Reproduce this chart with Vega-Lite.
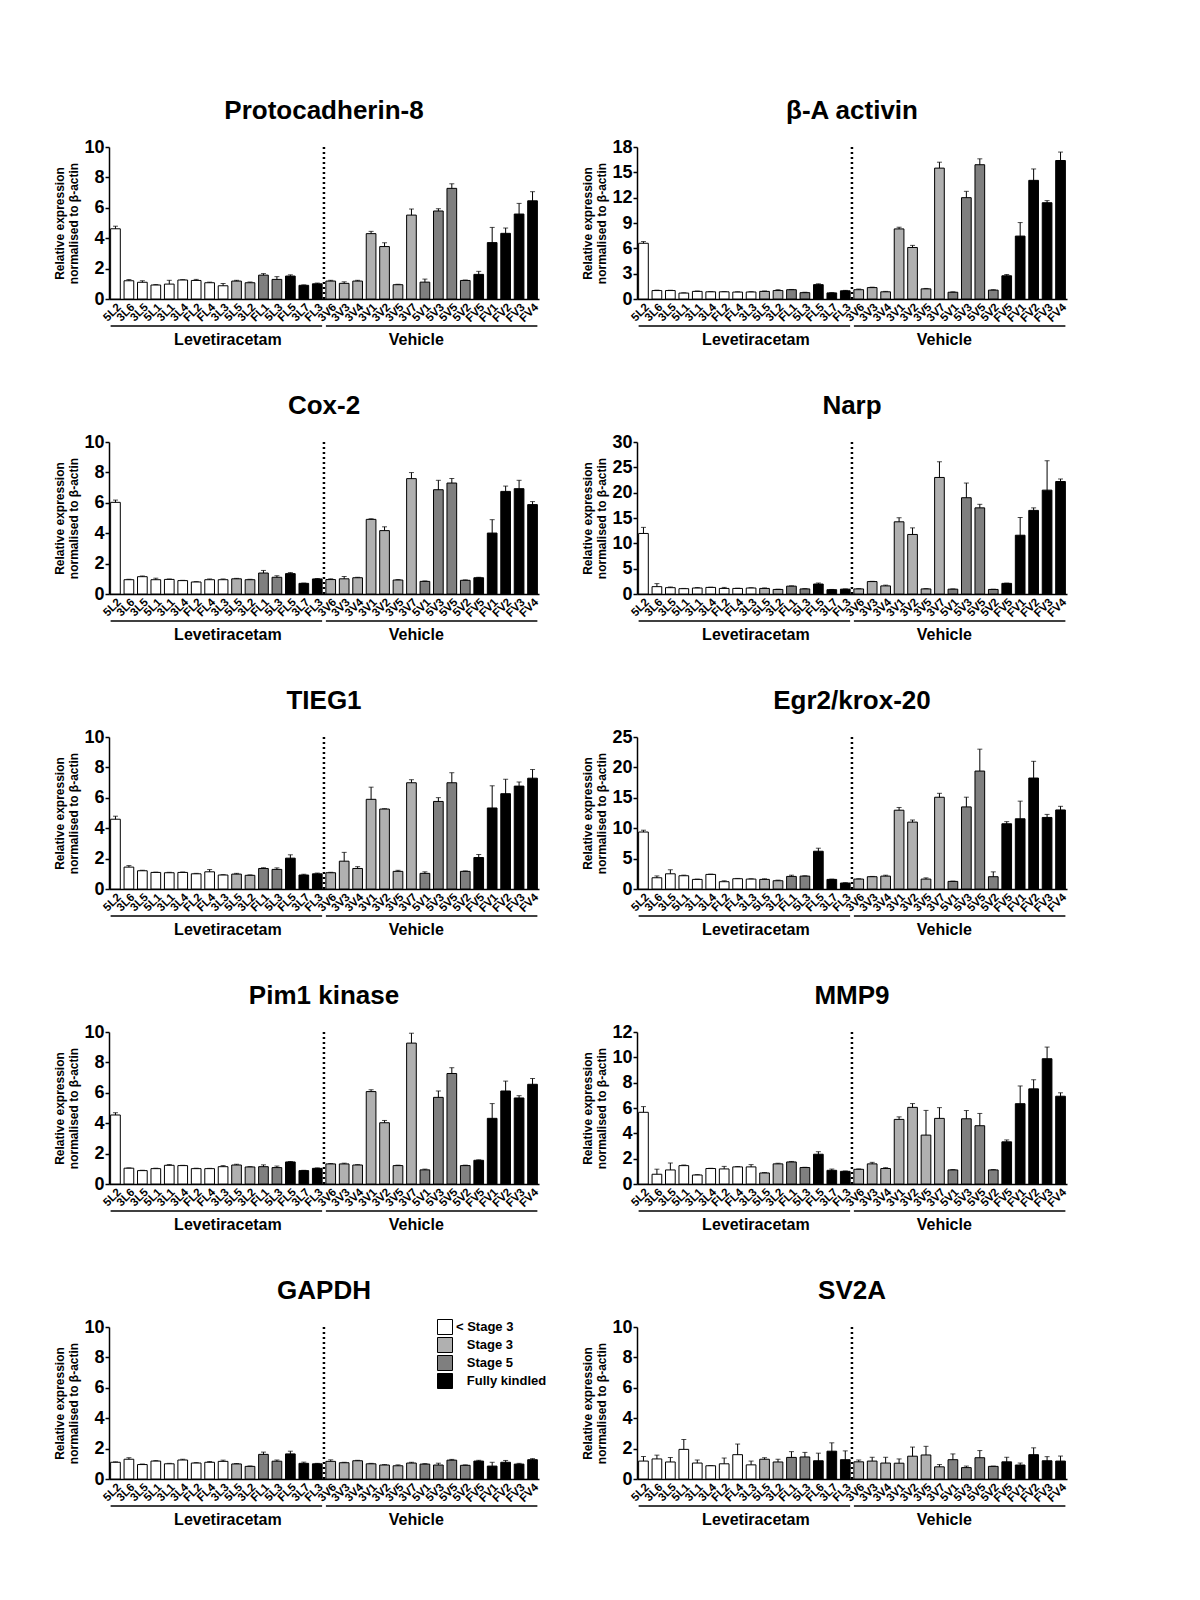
{
"$schema": "https://vega.github.io/schema/vega-lite/v6.json",
"padding": {"left": 53, "top": 98, "right": 0, "bottom": 0},
"datasets": {
"samples": [
{"s":"5L2","k":"< Stage 3"},{"s":"3L6","k":"< Stage 3"},{"s":"3L5","k":"< Stage 3"},{"s":"5L1","k":"< Stage 3"},{"s":"3L1","k":"< Stage 3"},{"s":"3L4","k":"< Stage 3"},{"s":"FL2","k":"< Stage 3"},{"s":"FL4","k":"< Stage 3"},{"s":"3L3","k":"< Stage 3"},
{"s":"5L5","k":"Stage 3"},{"s":"3L2","k":"Stage 3"},{"s":"3V6","k":"Stage 3"},{"s":"3V3","k":"Stage 3"},{"s":"3V4","k":"Stage 3"},{"s":"3V1","k":"Stage 3"},{"s":"3V2","k":"Stage 3"},{"s":"3V5","k":"Stage 3"},{"s":"3V7","k":"Stage 3"},
{"s":"FL1","k":"Stage 5"},{"s":"5L3","k":"Stage 5"},{"s":"5V1","k":"Stage 5"},{"s":"5V3","k":"Stage 5"},{"s":"5V5","k":"Stage 5"},{"s":"5V2","k":"Stage 5"},
{"s":"FL5","k":"Fully kindled"},{"s":"FL6","k":"Fully kindled"},{"s":"3L7","k":"Fully kindled"},{"s":"FL3","k":"Fully kindled"},{"s":"FV5","k":"Fully kindled"},{"s":"FV1","k":"Fully kindled"},{"s":"FV2","k":"Fully kindled"},{"s":"FV3","k":"Fully kindled"},{"s":"FV4","k":"Fully kindled"}
],
"P8": [
{"s":"5L2","v":4.62,"e":0.17},{"s":"3L6","v":1.2,"e":0.08},{"s":"3L5","v":1.1,"e":0.1},{"s":"5L1","v":0.92,"e":0.03},{"s":"3L1","v":0.98,"e":0.25},{"s":"3L4","v":1.25,"e":0.02},{"s":"FL2","v":1.22,"e":0.07},{"s":"FL4","v":1.07,"e":0.04},{"s":"3L3","v":0.87,"e":0.15},{"s":"5L5","v":1.18,"e":0.05},{"s":"3L2","v":1.07,"e":0.05},{"s":"FL1","v":1.57,"e":0.1},{"s":"5L3","v":1.29,"e":0.18},{"s":"FL5","v":1.51,"e":0.08},{"s":"3L7","v":0.9,"e":0.03},{"s":"FL3","v":1.0,"e":0.05},
{"s":"3V6","v":1.18,"e":0.05},{"s":"3V3","v":1.03,"e":0.1},{"s":"3V4","v":1.18,"e":0.05},{"s":"3V1","v":4.3,"e":0.15},{"s":"3V2","v":3.45,"e":0.25},{"s":"3V5","v":0.94,"e":0.03},{"s":"3V7","v":5.52,"e":0.4},{"s":"5V1","v":1.11,"e":0.2},{"s":"5V3","v":5.79,"e":0.15},{"s":"5V5","v":7.28,"e":0.3},{"s":"5V2","v":1.22,"e":0.03},{"s":"FV5","v":1.62,"e":0.2},{"s":"FV1","v":3.71,"e":1.0},{"s":"FV2","v":4.32,"e":0.35},{"s":"FV3","v":5.59,"e":0.7},{"s":"FV4","v":6.46,"e":0.6}
],
"BA": [
{"s":"5L2","v":6.6,"e":0.2},{"s":"3L6","v":1.0,"e":0.05},{"s":"3L5","v":1.0,"e":0.05},{"s":"5L1","v":0.7,"e":0.03},{"s":"3L1","v":0.9,"e":0.05},{"s":"3L4","v":0.85,"e":0.03},{"s":"FL2","v":0.85,"e":0.03},{"s":"FL4","v":0.82,"e":0.03},{"s":"3L3","v":0.83,"e":0.03},{"s":"5L5","v":0.9,"e":0.05},{"s":"3L2","v":1.0,"e":0.1},{"s":"FL1","v":1.1,"e":0.03},{"s":"5L3","v":0.75,"e":0.05},{"s":"FL5","v":1.7,"e":0.1},{"s":"3L7","v":0.72,"e":0.03},{"s":"FL3","v":0.97,"e":0.05},
{"s":"3V6","v":1.1,"e":0.08},{"s":"3V3","v":1.35,"e":0.05},{"s":"3V4","v":0.85,"e":0.05},{"s":"3V1","v":8.3,"e":0.2},{"s":"3V2","v":6.1,"e":0.25},{"s":"3V5","v":1.2,"e":0.05},{"s":"3V7","v":15.5,"e":0.7},{"s":"5V1","v":0.8,"e":0.05},{"s":"5V3","v":12.0,"e":0.75},{"s":"5V5","v":15.9,"e":0.7},{"s":"5V2","v":1.05,"e":0.05},{"s":"FV5","v":2.75,"e":0.15},{"s":"FV1","v":7.45,"e":1.6},{"s":"FV2","v":14.05,"e":1.35},{"s":"FV3","v":11.4,"e":0.25},{"s":"FV4","v":16.4,"e":1.0}
],
"COX": [
{"s":"5L2","v":6.03,"e":0.15},{"s":"3L6","v":0.94,"e":0.03},{"s":"3L5","v":1.14,"e":0.05},{"s":"5L1","v":0.94,"e":0.1},{"s":"3L1","v":0.96,"e":0.03},{"s":"3L4","v":0.88,"e":0.02},{"s":"FL2","v":0.79,"e":0.02},{"s":"FL4","v":0.94,"e":0.05},{"s":"3L3","v":0.94,"e":0.05},{"s":"5L5","v":1.0,"e":0.03},{"s":"3L2","v":0.94,"e":0.03},{"s":"FL1","v":1.38,"e":0.17},{"s":"5L3","v":1.1,"e":0.1},{"s":"FL5","v":1.34,"e":0.07},{"s":"3L7","v":0.7,"e":0.02},{"s":"FL3","v":0.99,"e":0.03},
{"s":"3V6","v":0.95,"e":0.05},{"s":"3V3","v":1.0,"e":0.15},{"s":"3V4","v":1.07,"e":0.03},{"s":"3V1","v":4.91,"e":0.04},{"s":"3V2","v":4.17,"e":0.25},{"s":"3V5","v":0.92,"e":0.03},{"s":"3V7","v":7.59,"e":0.4},{"s":"5V1","v":0.83,"e":0.03},{"s":"5V3","v":6.86,"e":0.62},{"s":"5V5","v":7.3,"e":0.3},{"s":"5V2","v":0.9,"e":0.03},{"s":"FV5","v":1.07,"e":0.03},{"s":"FV1","v":4.01,"e":0.88},{"s":"FV2","v":6.75,"e":0.35},{"s":"FV3","v":6.93,"e":0.55},{"s":"FV4","v":5.88,"e":0.2}
],
"NARP": [
{"s":"5L2","v":11.95,"e":1.2},{"s":"3L6","v":1.45,"e":0.6},{"s":"3L5","v":1.25,"e":0.15},{"s":"5L1","v":1.05,"e":0.05},{"s":"3L1","v":1.18,"e":0.1},{"s":"3L4","v":1.3,"e":0.05},{"s":"FL2","v":1.1,"e":0.2},{"s":"FL4","v":1.1,"e":0.05},{"s":"3L3","v":1.18,"e":0.05},{"s":"5L5","v":1.1,"e":0.1},{"s":"3L2","v":0.9,"e":0.05},{"s":"FL1","v":1.55,"e":0.05},{"s":"5L3","v":1.0,"e":0.05},{"s":"FL5","v":1.97,"e":0.2},{"s":"3L7","v":0.85,"e":0.05},{"s":"FL3","v":0.95,"e":0.05},
{"s":"3V6","v":1.0,"e":0.05},{"s":"3V3","v":2.45,"e":0.05},{"s":"3V4","v":1.6,"e":0.15},{"s":"3V1","v":14.25,"e":0.8},{"s":"3V2","v":11.75,"e":1.3},{"s":"3V5","v":1.0,"e":0.05},{"s":"3V7","v":23.0,"e":3.1},{"s":"5V1","v":0.95,"e":0.05},{"s":"5V3","v":19.0,"e":2.9},{"s":"5V5","v":17.0,"e":0.7},{"s":"5V2","v":0.9,"e":0.05},{"s":"FV5","v":2.1,"e":0.05},{"s":"FV1","v":11.6,"e":3.5},{"s":"FV2","v":16.5,"e":0.5},{"s":"FV3","v":20.5,"e":5.8},{"s":"FV4","v":22.2,"e":0.5}
],
"TIEG": [
{"s":"5L2","v":4.59,"e":0.2},{"s":"3L6","v":1.44,"e":0.1},{"s":"3L5","v":1.2,"e":0.03},{"s":"5L1","v":1.09,"e":0.02},{"s":"3L1","v":1.07,"e":0.03},{"s":"3L4","v":1.09,"e":0.03},{"s":"FL2","v":1.0,"e":0.03},{"s":"FL4","v":1.13,"e":0.15},{"s":"3L3","v":0.92,"e":0.02},{"s":"5L5","v":0.98,"e":0.05},{"s":"3L2","v":0.9,"e":0.03},{"s":"FL1","v":1.35,"e":0.05},{"s":"5L3","v":1.29,"e":0.1},{"s":"FL5","v":2.03,"e":0.22},{"s":"3L7","v":0.92,"e":0.05},{"s":"FL3","v":1.0,"e":0.05},
{"s":"3V6","v":1.07,"e":0.03},{"s":"3V3","v":1.83,"e":0.58},{"s":"3V4","v":1.35,"e":0.12},{"s":"3V1","v":5.9,"e":0.8},{"s":"3V2","v":5.26,"e":0.02},{"s":"3V5","v":1.16,"e":0.07},{"s":"3V7","v":6.99,"e":0.2},{"s":"5V1","v":1.03,"e":0.1},{"s":"5V3","v":5.76,"e":0.25},{"s":"5V5","v":6.99,"e":0.66},{"s":"5V2","v":1.16,"e":0.03},{"s":"FV5","v":2.07,"e":0.2},{"s":"FV1","v":5.33,"e":1.46},{"s":"FV2","v":6.27,"e":0.95},{"s":"FV3","v":6.77,"e":0.27},{"s":"FV4","v":7.29,"e":0.57}
],
"EGR": [
{"s":"5L2","v":9.37,"e":0.3},{"s":"3L6","v":1.85,"e":0.3},{"s":"3L5","v":2.5,"e":0.65},{"s":"5L1","v":2.18,"e":0.1},{"s":"3L1","v":1.58,"e":0.05},{"s":"3L4","v":2.4,"e":0.05},{"s":"FL2","v":1.2,"e":0.15},{"s":"FL4","v":1.69,"e":0.05},{"s":"3L3","v":1.63,"e":0.05},{"s":"5L5","v":1.58,"e":0.1},{"s":"3L2","v":1.36,"e":0.1},{"s":"FL1","v":2.07,"e":0.2},{"s":"5L3","v":2.12,"e":0.05},{"s":"FL5","v":6.21,"e":0.5},{"s":"3L7","v":1.58,"e":0.05},{"s":"FL3","v":0.98,"e":0.05},
{"s":"3V6","v":1.63,"e":0.05},{"s":"3V3","v":2.02,"e":0.05},{"s":"3V4","v":2.12,"e":0.15},{"s":"3V1","v":12.96,"e":0.45},{"s":"3V2","v":11.0,"e":0.35},{"s":"3V5","v":1.63,"e":0.2},{"s":"3V7","v":15.09,"e":0.65},{"s":"5V1","v":1.25,"e":0.05},{"s":"5V3","v":13.5,"e":1.6},{"s":"5V5","v":19.4,"e":3.6},{"s":"5V2","v":2.02,"e":0.8},{"s":"FV5","v":10.73,"e":0.35},{"s":"FV1","v":11.55,"e":2.9},{"s":"FV2","v":18.25,"e":2.75},{"s":"FV3","v":11.77,"e":0.5},{"s":"FV4","v":13.0,"e":0.6}
],
"PIM": [
{"s":"5L2","v":4.54,"e":0.15},{"s":"3L6","v":1.04,"e":0.02},{"s":"3L5","v":0.88,"e":0.02},{"s":"5L1","v":1.01,"e":0.03},{"s":"3L1","v":1.23,"e":0.05},{"s":"3L4","v":1.21,"e":0.02},{"s":"FL2","v":1.01,"e":0.03},{"s":"FL4","v":1.01,"e":0.02},{"s":"3L3","v":1.14,"e":0.07},{"s":"5L5","v":1.25,"e":0.05},{"s":"3L2","v":1.12,"e":0.02},{"s":"FL1","v":1.14,"e":0.12},{"s":"5L3","v":1.08,"e":0.1},{"s":"FL5","v":1.45,"e":0.03},{"s":"3L7","v":0.88,"e":0.02},{"s":"FL3","v":1.03,"e":0.03},
{"s":"3V6","v":1.32,"e":0.03},{"s":"3V3","v":1.32,"e":0.05},{"s":"3V4","v":1.25,"e":0.02},{"s":"3V1","v":6.08,"e":0.12},{"s":"3V2","v":4.03,"e":0.15},{"s":"3V5","v":1.21,"e":0.03},{"s":"3V7","v":9.27,"e":0.65},{"s":"5V1","v":0.93,"e":0.05},{"s":"5V3","v":5.7,"e":0.42},{"s":"5V5","v":7.27,"e":0.38},{"s":"5V2","v":1.21,"e":0.03},{"s":"FV5","v":1.56,"e":0.03},{"s":"FV1","v":4.32,"e":0.97},{"s":"FV2","v":6.12,"e":0.65},{"s":"FV3","v":5.66,"e":0.15},{"s":"FV4","v":6.56,"e":0.38}
],
"MMP": [
{"s":"5L2","v":5.66,"e":0.45},{"s":"3L6","v":0.77,"e":0.4},{"s":"3L5","v":1.11,"e":0.55},{"s":"5L1","v":1.45,"e":0.05},{"s":"3L1","v":0.71,"e":0.03},{"s":"3L4","v":1.22,"e":0.02},{"s":"FL2","v":1.19,"e":0.2},{"s":"FL4","v":1.35,"e":0.03},{"s":"3L3","v":1.35,"e":0.18},{"s":"5L5","v":0.87,"e":0.03},{"s":"3L2","v":1.59,"e":0.05},{"s":"FL1","v":1.74,"e":0.04},{"s":"5L3","v":1.3,"e":0.02},{"s":"FL5","v":2.35,"e":0.2},{"s":"3L7","v":1.08,"e":0.1},{"s":"FL3","v":1.0,"e":0.03},
{"s":"3V6","v":1.16,"e":0.03},{"s":"3V3","v":1.59,"e":0.12},{"s":"3V4","v":1.22,"e":0.07},{"s":"3V1","v":5.1,"e":0.2},{"s":"3V2","v":6.05,"e":0.3},{"s":"3V5","v":3.86,"e":1.95},{"s":"3V7","v":5.18,"e":0.85},{"s":"5V1","v":1.11,"e":0.03},{"s":"5V3","v":5.15,"e":0.65},{"s":"5V5","v":4.6,"e":0.97},{"s":"5V2","v":1.11,"e":0.03},{"s":"FV5","v":3.33,"e":0.15},{"s":"FV1","v":6.34,"e":1.4},{"s":"FV2","v":7.51,"e":0.72},{"s":"FV3","v":9.89,"e":0.92},{"s":"FV4","v":6.93,"e":0.27}
],
"GAP": [
{"s":"5L2","v":1.1,"e":0.03},{"s":"3L6","v":1.3,"e":0.1},{"s":"3L5","v":0.95,"e":0.03},{"s":"5L1","v":1.18,"e":0.03},{"s":"3L1","v":1.0,"e":0.03},{"s":"3L4","v":1.25,"e":0.05},{"s":"FL2","v":1.05,"e":0.03},{"s":"FL4","v":1.1,"e":0.05},{"s":"3L3","v":1.16,"e":0.08},{"s":"5L5","v":0.99,"e":0.03},{"s":"3L2","v":0.83,"e":0.03},{"s":"FL1","v":1.62,"e":0.15},{"s":"5L3","v":1.17,"e":0.08},{"s":"FL5","v":1.65,"e":0.18},{"s":"3L7","v":1.03,"e":0.08},{"s":"FL3","v":1.0,"e":0.03},
{"s":"3V6","v":1.16,"e":0.1},{"s":"3V3","v":1.07,"e":0.03},{"s":"3V4","v":1.2,"e":0.03},{"s":"3V1","v":1.0,"e":0.03},{"s":"3V2","v":0.92,"e":0.03},{"s":"3V5","v":0.87,"e":0.06},{"s":"3V7","v":1.05,"e":0.05},{"s":"5V1","v":0.98,"e":0.03},{"s":"5V3","v":0.92,"e":0.12},{"s":"5V5","v":1.24,"e":0.05},{"s":"5V2","v":0.9,"e":0.03},{"s":"FV5","v":1.18,"e":0.05},{"s":"FV1","v":0.85,"e":0.25},{"s":"FV2","v":1.1,"e":0.12},{"s":"FV3","v":0.98,"e":0.05},{"s":"FV4","v":1.27,"e":0.07}
],
"SV2A": [
{"s":"5L2","v":1.18,"e":0.3},{"s":"3L6","v":1.32,"e":0.25},{"s":"3L5","v":1.12,"e":0.3},{"s":"5L1","v":1.95,"e":0.65},{"s":"3L1","v":1.05,"e":0.2},{"s":"3L4","v":0.87,"e":0.02},{"s":"FL2","v":1.0,"e":0.38},{"s":"FL4","v":1.6,"e":0.7},{"s":"3L3","v":0.93,"e":0.25},{"s":"5L5","v":1.3,"e":0.1},{"s":"3L2","v":1.12,"e":0.18},{"s":"FL1","v":1.42,"e":0.38},{"s":"5L3","v":1.45,"e":0.3},{"s":"FL6","v":1.2,"e":0.5},{"s":"3L7","v":1.83,"e":0.55},{"s":"FL3","v":1.27,"e":0.58},
{"s":"3V6","v":1.13,"e":0.12},{"s":"3V3","v":1.18,"e":0.25},{"s":"3V4","v":1.05,"e":0.38},{"s":"3V1","v":1.04,"e":0.28},{"s":"3V2","v":1.5,"e":0.6},{"s":"3V5","v":1.58,"e":0.57},{"s":"3V7","v":0.8,"e":0.15},{"s":"5V1","v":1.27,"e":0.38},{"s":"5V3","v":0.75,"e":0.1},{"s":"5V5","v":1.4,"e":0.47},{"s":"5V2","v":0.83,"e":0.02},{"s":"FV5","v":1.13,"e":0.3},{"s":"FV1","v":0.92,"e":0.13},{"s":"FV2","v":1.6,"e":0.45},{"s":"FV3","v":1.2,"e":0.27},{"s":"FV4","v":1.18,"e":0.33}
],
"groups": [
{"grp":"Levetiracetam","a":"5L2","b":"FL3","t":"3L3"},
{"grp":"Vehicle","a":"3V6","b":"FV4","t":"3V7"}
],
"divider": [{"d":"3V6"}]
},
"columns": 2,
"spacing": {"row": 45, "column": 34},
"resolve": {"scale": {"fill": "independent"}, "legend": {"fill": "independent"}},
"concat": [
{"title": "Protocadherin-8", "width": 430, "height": 152, "layer": [
 {"data": {"name": "P8"}, "transform": [{"lookup": "s", "from": {"data": {"name": "samples"}, "key": "s", "fields": ["k"]}}], "layer": [
  {"mark": {"type": "errorbar", "ticks": true, "size": 5, "thickness": 1, "color": "black"}, "encoding": {"x": {"field": "s", "type": "nominal", "sort": null, "title": null}, "y": {"field": "v", "type": "quantitative", "scale": {"domain": [0, 10], "nice": false}, "title": ["Relative expression", "normalised to β-actin"], "axis": {"values": [0,2,4,6,8,10], "tickCount": 20, "format": "d"}}, "yError": {"field": "e"}}},
  {"mark": {"type": "bar", "stroke": "black", "strokeWidth": 1}, "encoding": {"x": {"field": "s", "type": "nominal", "sort": null, "title": null}, "y": {"field": "v", "type": "quantitative", "scale": {"domain": [0, 10], "nice": false}, "title": ["Relative expression", "normalised to β-actin"], "axis": {"values": [0,2,4,6,8,10], "tickCount": 20, "format": "d"}}, "fill": {"field": "k", "type": "nominal", "scale": {"domain": ["< Stage 3","Stage 3","Stage 5","Fully kindled"], "range": ["#ffffff","#b0b0b0","#7f7f7f","#000000"]}, "legend": null}}}
 ]},
 {"data": {"name": "groups"}, "layer": [
  {"mark": {"type": "rule", "yOffset": 27, "strokeWidth": 1.5, "color": "black"}, "encoding": {"x": {"field": "a", "type": "nominal", "sort": null, "bandPosition": 0, "title": null}, "x2": {"field": "b", "bandPosition": 1}, "y": {"datum": 0}}},
  {"mark": {"type": "text", "yOffset": 41, "fontSize": 16, "fontWeight": "bold", "baseline": "middle"}, "encoding": {"x": {"field": "t", "type": "nominal", "sort": null, "bandPosition": 1, "title": null}, "y": {"datum": 0}, "text": {"field": "grp"}}}
 ]},
 {"data": {"name": "divider"}, "mark": {"type": "rule", "strokeDash": [2, 3], "strokeWidth": 2.5, "color": "black"}, "encoding": {"x": {"field": "d", "type": "nominal", "sort": null, "bandPosition": -0.2, "title": null}}}
]},
{"title": "β-A activin", "width": 430, "height": 152, "layer": [
 {"data": {"name": "BA"}, "transform": [{"lookup": "s", "from": {"data": {"name": "samples"}, "key": "s", "fields": ["k"]}}], "layer": [
  {"mark": {"type": "errorbar", "ticks": true, "size": 5, "thickness": 1, "color": "black"}, "encoding": {"x": {"field": "s", "type": "nominal", "sort": null, "title": null}, "y": {"field": "v", "type": "quantitative", "scale": {"domain": [0, 18], "nice": false}, "title": ["Relative expression", "normalised to β-actin"], "axis": {"values": [0,3,6,9,12,15,18], "tickCount": 20, "format": "d"}}, "yError": {"field": "e"}}},
  {"mark": {"type": "bar", "stroke": "black", "strokeWidth": 1}, "encoding": {"x": {"field": "s", "type": "nominal", "sort": null, "title": null}, "y": {"field": "v", "type": "quantitative", "scale": {"domain": [0, 18], "nice": false}, "title": ["Relative expression", "normalised to β-actin"], "axis": {"values": [0,3,6,9,12,15,18], "tickCount": 20, "format": "d"}}, "fill": {"field": "k", "type": "nominal", "scale": {"domain": ["< Stage 3","Stage 3","Stage 5","Fully kindled"], "range": ["#ffffff","#b0b0b0","#7f7f7f","#000000"]}, "legend": null}}}
 ]},
 {"data": {"name": "groups"}, "layer": [
  {"mark": {"type": "rule", "yOffset": 27, "strokeWidth": 1.5, "color": "black"}, "encoding": {"x": {"field": "a", "type": "nominal", "sort": null, "bandPosition": 0, "title": null}, "x2": {"field": "b", "bandPosition": 1}, "y": {"datum": 0}}},
  {"mark": {"type": "text", "yOffset": 41, "fontSize": 16, "fontWeight": "bold", "baseline": "middle"}, "encoding": {"x": {"field": "t", "type": "nominal", "sort": null, "bandPosition": 1, "title": null}, "y": {"datum": 0}, "text": {"field": "grp"}}}
 ]},
 {"data": {"name": "divider"}, "mark": {"type": "rule", "strokeDash": [2, 3], "strokeWidth": 2.5, "color": "black"}, "encoding": {"x": {"field": "d", "type": "nominal", "sort": null, "bandPosition": -0.2, "title": null}}}
]},
{"title": "Cox-2", "width": 430, "height": 152, "layer": [
 {"data": {"name": "COX"}, "transform": [{"lookup": "s", "from": {"data": {"name": "samples"}, "key": "s", "fields": ["k"]}}], "layer": [
  {"mark": {"type": "errorbar", "ticks": true, "size": 5, "thickness": 1, "color": "black"}, "encoding": {"x": {"field": "s", "type": "nominal", "sort": null, "title": null}, "y": {"field": "v", "type": "quantitative", "scale": {"domain": [0, 10], "nice": false}, "title": ["Relative expression", "normalised to β-actin"], "axis": {"values": [0,2,4,6,8,10], "tickCount": 20, "format": "d"}}, "yError": {"field": "e"}}},
  {"mark": {"type": "bar", "stroke": "black", "strokeWidth": 1}, "encoding": {"x": {"field": "s", "type": "nominal", "sort": null, "title": null}, "y": {"field": "v", "type": "quantitative", "scale": {"domain": [0, 10], "nice": false}, "title": ["Relative expression", "normalised to β-actin"], "axis": {"values": [0,2,4,6,8,10], "tickCount": 20, "format": "d"}}, "fill": {"field": "k", "type": "nominal", "scale": {"domain": ["< Stage 3","Stage 3","Stage 5","Fully kindled"], "range": ["#ffffff","#b0b0b0","#7f7f7f","#000000"]}, "legend": null}}}
 ]},
 {"data": {"name": "groups"}, "layer": [
  {"mark": {"type": "rule", "yOffset": 27, "strokeWidth": 1.5, "color": "black"}, "encoding": {"x": {"field": "a", "type": "nominal", "sort": null, "bandPosition": 0, "title": null}, "x2": {"field": "b", "bandPosition": 1}, "y": {"datum": 0}}},
  {"mark": {"type": "text", "yOffset": 41, "fontSize": 16, "fontWeight": "bold", "baseline": "middle"}, "encoding": {"x": {"field": "t", "type": "nominal", "sort": null, "bandPosition": 1, "title": null}, "y": {"datum": 0}, "text": {"field": "grp"}}}
 ]},
 {"data": {"name": "divider"}, "mark": {"type": "rule", "strokeDash": [2, 3], "strokeWidth": 2.5, "color": "black"}, "encoding": {"x": {"field": "d", "type": "nominal", "sort": null, "bandPosition": -0.2, "title": null}}}
]},
{"title": "Narp", "width": 430, "height": 152, "layer": [
 {"data": {"name": "NARP"}, "transform": [{"lookup": "s", "from": {"data": {"name": "samples"}, "key": "s", "fields": ["k"]}}], "layer": [
  {"mark": {"type": "errorbar", "ticks": true, "size": 5, "thickness": 1, "color": "black"}, "encoding": {"x": {"field": "s", "type": "nominal", "sort": null, "title": null}, "y": {"field": "v", "type": "quantitative", "scale": {"domain": [0, 30], "nice": false}, "title": ["Relative expression", "normalised to β-actin"], "axis": {"values": [0,5,10,15,20,25,30], "tickCount": 20, "format": "d"}}, "yError": {"field": "e"}}},
  {"mark": {"type": "bar", "stroke": "black", "strokeWidth": 1}, "encoding": {"x": {"field": "s", "type": "nominal", "sort": null, "title": null}, "y": {"field": "v", "type": "quantitative", "scale": {"domain": [0, 30], "nice": false}, "title": ["Relative expression", "normalised to β-actin"], "axis": {"values": [0,5,10,15,20,25,30], "tickCount": 20, "format": "d"}}, "fill": {"field": "k", "type": "nominal", "scale": {"domain": ["< Stage 3","Stage 3","Stage 5","Fully kindled"], "range": ["#ffffff","#b0b0b0","#7f7f7f","#000000"]}, "legend": null}}}
 ]},
 {"data": {"name": "groups"}, "layer": [
  {"mark": {"type": "rule", "yOffset": 27, "strokeWidth": 1.5, "color": "black"}, "encoding": {"x": {"field": "a", "type": "nominal", "sort": null, "bandPosition": 0, "title": null}, "x2": {"field": "b", "bandPosition": 1}, "y": {"datum": 0}}},
  {"mark": {"type": "text", "yOffset": 41, "fontSize": 16, "fontWeight": "bold", "baseline": "middle"}, "encoding": {"x": {"field": "t", "type": "nominal", "sort": null, "bandPosition": 1, "title": null}, "y": {"datum": 0}, "text": {"field": "grp"}}}
 ]},
 {"data": {"name": "divider"}, "mark": {"type": "rule", "strokeDash": [2, 3], "strokeWidth": 2.5, "color": "black"}, "encoding": {"x": {"field": "d", "type": "nominal", "sort": null, "bandPosition": -0.2, "title": null}}}
]},
{"title": "TIEG1", "width": 430, "height": 152, "layer": [
 {"data": {"name": "TIEG"}, "transform": [{"lookup": "s", "from": {"data": {"name": "samples"}, "key": "s", "fields": ["k"]}}], "layer": [
  {"mark": {"type": "errorbar", "ticks": true, "size": 5, "thickness": 1, "color": "black"}, "encoding": {"x": {"field": "s", "type": "nominal", "sort": null, "title": null}, "y": {"field": "v", "type": "quantitative", "scale": {"domain": [0, 10], "nice": false}, "title": ["Relative expression", "normalised to β-actin"], "axis": {"values": [0,2,4,6,8,10], "tickCount": 20, "format": "d"}}, "yError": {"field": "e"}}},
  {"mark": {"type": "bar", "stroke": "black", "strokeWidth": 1}, "encoding": {"x": {"field": "s", "type": "nominal", "sort": null, "title": null}, "y": {"field": "v", "type": "quantitative", "scale": {"domain": [0, 10], "nice": false}, "title": ["Relative expression", "normalised to β-actin"], "axis": {"values": [0,2,4,6,8,10], "tickCount": 20, "format": "d"}}, "fill": {"field": "k", "type": "nominal", "scale": {"domain": ["< Stage 3","Stage 3","Stage 5","Fully kindled"], "range": ["#ffffff","#b0b0b0","#7f7f7f","#000000"]}, "legend": null}}}
 ]},
 {"data": {"name": "groups"}, "layer": [
  {"mark": {"type": "rule", "yOffset": 27, "strokeWidth": 1.5, "color": "black"}, "encoding": {"x": {"field": "a", "type": "nominal", "sort": null, "bandPosition": 0, "title": null}, "x2": {"field": "b", "bandPosition": 1}, "y": {"datum": 0}}},
  {"mark": {"type": "text", "yOffset": 41, "fontSize": 16, "fontWeight": "bold", "baseline": "middle"}, "encoding": {"x": {"field": "t", "type": "nominal", "sort": null, "bandPosition": 1, "title": null}, "y": {"datum": 0}, "text": {"field": "grp"}}}
 ]},
 {"data": {"name": "divider"}, "mark": {"type": "rule", "strokeDash": [2, 3], "strokeWidth": 2.5, "color": "black"}, "encoding": {"x": {"field": "d", "type": "nominal", "sort": null, "bandPosition": -0.2, "title": null}}}
]},
{"title": "Egr2/krox-20", "width": 430, "height": 152, "layer": [
 {"data": {"name": "EGR"}, "transform": [{"lookup": "s", "from": {"data": {"name": "samples"}, "key": "s", "fields": ["k"]}}], "layer": [
  {"mark": {"type": "errorbar", "ticks": true, "size": 5, "thickness": 1, "color": "black"}, "encoding": {"x": {"field": "s", "type": "nominal", "sort": null, "title": null}, "y": {"field": "v", "type": "quantitative", "scale": {"domain": [0, 25], "nice": false}, "title": ["Relative expression", "normalised to β-actin"], "axis": {"values": [0,5,10,15,20,25], "tickCount": 20, "format": "d"}}, "yError": {"field": "e"}}},
  {"mark": {"type": "bar", "stroke": "black", "strokeWidth": 1}, "encoding": {"x": {"field": "s", "type": "nominal", "sort": null, "title": null}, "y": {"field": "v", "type": "quantitative", "scale": {"domain": [0, 25], "nice": false}, "title": ["Relative expression", "normalised to β-actin"], "axis": {"values": [0,5,10,15,20,25], "tickCount": 20, "format": "d"}}, "fill": {"field": "k", "type": "nominal", "scale": {"domain": ["< Stage 3","Stage 3","Stage 5","Fully kindled"], "range": ["#ffffff","#b0b0b0","#7f7f7f","#000000"]}, "legend": null}}}
 ]},
 {"data": {"name": "groups"}, "layer": [
  {"mark": {"type": "rule", "yOffset": 27, "strokeWidth": 1.5, "color": "black"}, "encoding": {"x": {"field": "a", "type": "nominal", "sort": null, "bandPosition": 0, "title": null}, "x2": {"field": "b", "bandPosition": 1}, "y": {"datum": 0}}},
  {"mark": {"type": "text", "yOffset": 41, "fontSize": 16, "fontWeight": "bold", "baseline": "middle"}, "encoding": {"x": {"field": "t", "type": "nominal", "sort": null, "bandPosition": 1, "title": null}, "y": {"datum": 0}, "text": {"field": "grp"}}}
 ]},
 {"data": {"name": "divider"}, "mark": {"type": "rule", "strokeDash": [2, 3], "strokeWidth": 2.5, "color": "black"}, "encoding": {"x": {"field": "d", "type": "nominal", "sort": null, "bandPosition": -0.2, "title": null}}}
]},
{"title": "Pim1 kinase", "width": 430, "height": 152, "layer": [
 {"data": {"name": "PIM"}, "transform": [{"lookup": "s", "from": {"data": {"name": "samples"}, "key": "s", "fields": ["k"]}}], "layer": [
  {"mark": {"type": "errorbar", "ticks": true, "size": 5, "thickness": 1, "color": "black"}, "encoding": {"x": {"field": "s", "type": "nominal", "sort": null, "title": null}, "y": {"field": "v", "type": "quantitative", "scale": {"domain": [0, 10], "nice": false}, "title": ["Relative expression", "normalised to β-actin"], "axis": {"values": [0,2,4,6,8,10], "tickCount": 20, "format": "d"}}, "yError": {"field": "e"}}},
  {"mark": {"type": "bar", "stroke": "black", "strokeWidth": 1}, "encoding": {"x": {"field": "s", "type": "nominal", "sort": null, "title": null}, "y": {"field": "v", "type": "quantitative", "scale": {"domain": [0, 10], "nice": false}, "title": ["Relative expression", "normalised to β-actin"], "axis": {"values": [0,2,4,6,8,10], "tickCount": 20, "format": "d"}}, "fill": {"field": "k", "type": "nominal", "scale": {"domain": ["< Stage 3","Stage 3","Stage 5","Fully kindled"], "range": ["#ffffff","#b0b0b0","#7f7f7f","#000000"]}, "legend": null}}}
 ]},
 {"data": {"name": "groups"}, "layer": [
  {"mark": {"type": "rule", "yOffset": 27, "strokeWidth": 1.5, "color": "black"}, "encoding": {"x": {"field": "a", "type": "nominal", "sort": null, "bandPosition": 0, "title": null}, "x2": {"field": "b", "bandPosition": 1}, "y": {"datum": 0}}},
  {"mark": {"type": "text", "yOffset": 41, "fontSize": 16, "fontWeight": "bold", "baseline": "middle"}, "encoding": {"x": {"field": "t", "type": "nominal", "sort": null, "bandPosition": 1, "title": null}, "y": {"datum": 0}, "text": {"field": "grp"}}}
 ]},
 {"data": {"name": "divider"}, "mark": {"type": "rule", "strokeDash": [2, 3], "strokeWidth": 2.5, "color": "black"}, "encoding": {"x": {"field": "d", "type": "nominal", "sort": null, "bandPosition": -0.2, "title": null}}}
]},
{"title": "MMP9", "width": 430, "height": 152, "layer": [
 {"data": {"name": "MMP"}, "transform": [{"lookup": "s", "from": {"data": {"name": "samples"}, "key": "s", "fields": ["k"]}}], "layer": [
  {"mark": {"type": "errorbar", "ticks": true, "size": 5, "thickness": 1, "color": "black"}, "encoding": {"x": {"field": "s", "type": "nominal", "sort": null, "title": null}, "y": {"field": "v", "type": "quantitative", "scale": {"domain": [0, 12], "nice": false}, "title": ["Relative expression", "normalised to β-actin"], "axis": {"values": [0,2,4,6,8,10,12], "tickCount": 20, "format": "d"}}, "yError": {"field": "e"}}},
  {"mark": {"type": "bar", "stroke": "black", "strokeWidth": 1}, "encoding": {"x": {"field": "s", "type": "nominal", "sort": null, "title": null}, "y": {"field": "v", "type": "quantitative", "scale": {"domain": [0, 12], "nice": false}, "title": ["Relative expression", "normalised to β-actin"], "axis": {"values": [0,2,4,6,8,10,12], "tickCount": 20, "format": "d"}}, "fill": {"field": "k", "type": "nominal", "scale": {"domain": ["< Stage 3","Stage 3","Stage 5","Fully kindled"], "range": ["#ffffff","#b0b0b0","#7f7f7f","#000000"]}, "legend": null}}}
 ]},
 {"data": {"name": "groups"}, "layer": [
  {"mark": {"type": "rule", "yOffset": 27, "strokeWidth": 1.5, "color": "black"}, "encoding": {"x": {"field": "a", "type": "nominal", "sort": null, "bandPosition": 0, "title": null}, "x2": {"field": "b", "bandPosition": 1}, "y": {"datum": 0}}},
  {"mark": {"type": "text", "yOffset": 41, "fontSize": 16, "fontWeight": "bold", "baseline": "middle"}, "encoding": {"x": {"field": "t", "type": "nominal", "sort": null, "bandPosition": 1, "title": null}, "y": {"datum": 0}, "text": {"field": "grp"}}}
 ]},
 {"data": {"name": "divider"}, "mark": {"type": "rule", "strokeDash": [2, 3], "strokeWidth": 2.5, "color": "black"}, "encoding": {"x": {"field": "d", "type": "nominal", "sort": null, "bandPosition": -0.2, "title": null}}}
]},
{"title": "GAPDH", "width": 430, "height": 152, "layer": [
 {"data": {"name": "GAP"}, "transform": [{"lookup": "s", "from": {"data": {"name": "samples"}, "key": "s", "fields": ["k"]}}], "layer": [
  {"mark": {"type": "errorbar", "ticks": true, "size": 5, "thickness": 1, "color": "black"}, "encoding": {"x": {"field": "s", "type": "nominal", "sort": null, "title": null}, "y": {"field": "v", "type": "quantitative", "scale": {"domain": [0, 10], "nice": false}, "title": ["Relative expression", "normalised to β-actin"], "axis": {"values": [0,2,4,6,8,10], "tickCount": 20, "format": "d"}}, "yError": {"field": "e"}}},
  {"mark": {"type": "bar", "stroke": "black", "strokeWidth": 1}, "encoding": {"x": {"field": "s", "type": "nominal", "sort": null, "title": null}, "y": {"field": "v", "type": "quantitative", "scale": {"domain": [0, 10], "nice": false}, "title": ["Relative expression", "normalised to β-actin"], "axis": {"values": [0,2,4,6,8,10], "tickCount": 20, "format": "d"}}, "fill": {"field": "k", "type": "nominal", "scale": {"domain": ["< Stage 3","Stage 3","Stage 5","Fully kindled"], "range": ["#ffffff","#b0b0b0","#7f7f7f","#000000"]}, "legend": {"orient": "top-right", "title": null, "offset": -8, "padding": 0, "symbolType": "square", "symbolSize": 225, "symbolStrokeColor": "black", "symbolStrokeWidth": 1, "labelFontSize": 13, "labelFontWeight": "bold", "labelColor": "black", "rowPadding": -7, "labelOffset": 3, "labelExpr": "datum.value == '< Stage 3' ? datum.value : '\u200b\u00a0\u00a0\u00a0' + datum.value"}}}}
 ]},
 {"data": {"name": "groups"}, "layer": [
  {"mark": {"type": "rule", "yOffset": 27, "strokeWidth": 1.5, "color": "black"}, "encoding": {"x": {"field": "a", "type": "nominal", "sort": null, "bandPosition": 0, "title": null}, "x2": {"field": "b", "bandPosition": 1}, "y": {"datum": 0}}},
  {"mark": {"type": "text", "yOffset": 41, "fontSize": 16, "fontWeight": "bold", "baseline": "middle"}, "encoding": {"x": {"field": "t", "type": "nominal", "sort": null, "bandPosition": 1, "title": null}, "y": {"datum": 0}, "text": {"field": "grp"}}}
 ]},
 {"data": {"name": "divider"}, "mark": {"type": "rule", "strokeDash": [2, 3], "strokeWidth": 2.5, "color": "black"}, "encoding": {"x": {"field": "d", "type": "nominal", "sort": null, "bandPosition": -0.2, "title": null}}}
]},
{"title": "SV2A", "width": 430, "height": 152, "layer": [
 {"data": {"name": "SV2A"}, "transform": [{"lookup": "s", "from": {"data": {"name": "samples"}, "key": "s", "fields": ["k"]}}], "layer": [
  {"mark": {"type": "errorbar", "ticks": true, "size": 5, "thickness": 1, "color": "black"}, "encoding": {"x": {"field": "s", "type": "nominal", "sort": null, "title": null}, "y": {"field": "v", "type": "quantitative", "scale": {"domain": [0, 10], "nice": false}, "title": ["Relative expression", "normalised to β-actin"], "axis": {"values": [0,2,4,6,8,10], "tickCount": 20, "format": "d"}}, "yError": {"field": "e"}}},
  {"mark": {"type": "bar", "stroke": "black", "strokeWidth": 1}, "encoding": {"x": {"field": "s", "type": "nominal", "sort": null, "title": null}, "y": {"field": "v", "type": "quantitative", "scale": {"domain": [0, 10], "nice": false}, "title": ["Relative expression", "normalised to β-actin"], "axis": {"values": [0,2,4,6,8,10], "tickCount": 20, "format": "d"}}, "fill": {"field": "k", "type": "nominal", "scale": {"domain": ["< Stage 3","Stage 3","Stage 5","Fully kindled"], "range": ["#ffffff","#b0b0b0","#7f7f7f","#000000"]}, "legend": null}}}
 ]},
 {"data": {"name": "groups"}, "layer": [
  {"mark": {"type": "rule", "yOffset": 27, "strokeWidth": 1.5, "color": "black"}, "encoding": {"x": {"field": "a", "type": "nominal", "sort": null, "bandPosition": 0, "title": null}, "x2": {"field": "b", "bandPosition": 1}, "y": {"datum": 0}}},
  {"mark": {"type": "text", "yOffset": 41, "fontSize": 16, "fontWeight": "bold", "baseline": "middle"}, "encoding": {"x": {"field": "t", "type": "nominal", "sort": null, "bandPosition": 1, "title": null}, "y": {"datum": 0}, "text": {"field": "grp"}}}
 ]},
 {"data": {"name": "divider"}, "mark": {"type": "rule", "strokeDash": [2, 3], "strokeWidth": 2.5, "color": "black"}, "encoding": {"x": {"field": "d", "type": "nominal", "sort": null, "bandPosition": -0.2, "title": null}}}
]}
],
"config": {
 "font": "Liberation Sans",
 "background": "white",
 "view": {"stroke": null},
 "scale": {"bandPaddingInner": 0.28, "bandPaddingOuter": 0.12},
 "title": {"fontSize": 26, "fontWeight": "bold", "color": "black", "offset": 14, "anchor": "middle"},
 "axis": {"grid": false, "domainColor": "black", "tickColor": "black", "labelColor": "black", "titleColor": "black", "labelFontWeight": "bold", "titleFontWeight": "bold", "domainWidth": 1.5},
 "axisY": {"labelFontSize": 18, "labelPadding": 1, "labelOverlap": false, "tickCount": 20, "tickSize": 4, "tickWidth": 1.5, "titleFontSize": 12, "titlePadding": 3, "titleLineHeight": 14},
 "axisX": {"labelAngle": -45, "labelFontSize": 11.5, "labelOverlap": false, "ticks": false, "labelPadding": 2}
}
}
